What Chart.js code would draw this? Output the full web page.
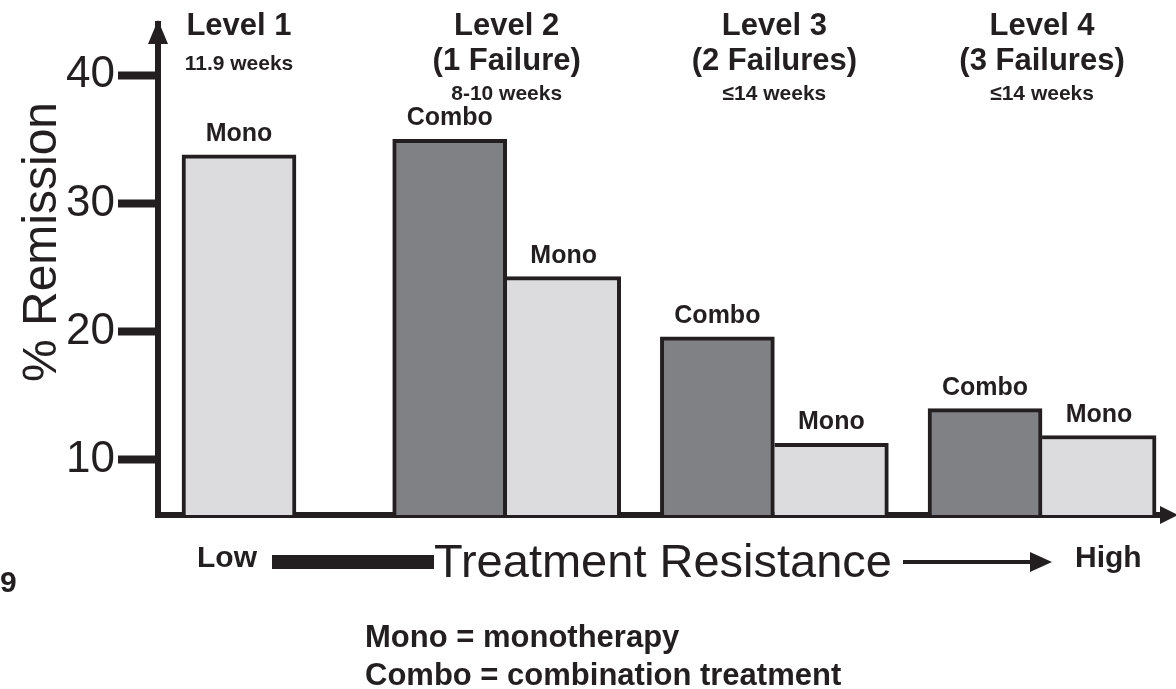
<!DOCTYPE html>
<html><head><meta charset="utf-8">
<script src="https://cdn.jsdelivr.net/npm/chart.js@4/dist/chart.umd.min.js"></script>
<style>html,body{margin:0;padding:0;background:#fff;overflow:hidden}#wrap{width:1176px;height:689px;position:relative}</style>
</head><body><div id="wrap"><canvas id="c" width="1176" height="689"></canvas></div>
<script>
// ---- data ----
const levels = ['Level 1', 'Level 2', 'Level 3', 'Level 4'];
const levelSub = ['', '(1 Failure)', '(2 Failures)', '(3 Failures)'];
const levelWeeks = ['11.9 weeks', '8-10 weeks', '≤14 weeks', '≤14 weeks'];
const seriesNames = ['Combo', 'Mono'];
const comboValues = [null, 35.0, 19.6, 14.0];
const monoValues = [33.8, 24.3, 11.3, 11.9];
const yTicks = [10, 20, 30, 40];
const yTitle = '% Remission';
const xTitle = 'Treatment Resistance';
const lowLabel = 'Low';
const highLabel = 'High';
const legendLines = ['Mono = monotherapy', 'Combo = combination treatment'];
const figNumber = '9';

// ---- styles ----
const ink = '#231f20';
const comboFill = '#808184';
const monoFill = '#dcdcde';
const FF = '"Liberation Sans", Arial, Helvetica, sans-serif';

const toPoints = arr => arr.map((v, i) => ({ x: i, y: v }));

const overlay = {
  id: 'overlay',
  afterDraw(chart) {
    const ctx = chart.ctx, xs = chart.scales.x, ca = chart.chartArea;
    ctx.save();
    ctx.fillStyle = ink; ctx.strokeStyle = ink;
    // axis arrowheads
    ctx.beginPath();
    ctx.moveTo(ca.left, ca.top - 4);
    ctx.lineTo(ca.left - 10, ca.top + 20);
    ctx.lineTo(ca.left + 10, ca.top + 20);
    ctx.closePath(); ctx.fill();
    ctx.beginPath();
    ctx.moveTo(ca.right + 8, ca.bottom);
    ctx.lineTo(ca.right - 10, ca.bottom - 9);
    ctx.lineTo(ca.right - 10, ca.bottom + 9);
    ctx.closePath(); ctx.fill();

    // bar labels
    ctx.font = 'bold 25px ' + FF;
    ctx.textAlign = 'center'; ctx.textBaseline = 'alphabetic';
    chart.data.datasets.forEach((ds, d) => {
      const meta = chart.getDatasetMeta(d);
      meta.data.forEach((el, i) => {
        if (ds.data[i].y == null) return;
        ctx.fillText(ds.label, el.x, el.y - 14);
      });
    });

    // level headers
    levels.forEach((t, i) => {
      const x = xs.getPixelForValue(i);
      ctx.font = 'bold 31px ' + FF;
      ctx.fillText(t, x, 35);
      if (levelSub[i]) {
        ctx.fillText(levelSub[i], x, 70);
        ctx.font = 'bold 21px ' + FF;
        ctx.fillText(levelWeeks[i], x, 100);
      } else {
        ctx.font = 'bold 21px ' + FF;
        ctx.fillText(levelWeeks[i], x, 70);
      }
    });

    // y title
    ctx.save();
    ctx.translate(56, 242);
    ctx.rotate(-Math.PI / 2);
    ctx.font = '48px ' + FF;
    ctx.textAlign = 'center'; ctx.textBaseline = 'alphabetic';
    ctx.fillText(yTitle, 0, 0);
    ctx.restore();

    // x title with Low -> High
    ctx.textAlign = 'left';
    ctx.font = 'bold 30px ' + FF;
    ctx.fillText(lowLabel, 197, 567);
    ctx.fillRect(272, 555, 162, 14);
    ctx.font = '47px ' + FF;
    ctx.fillText(xTitle, 434, 577);
    ctx.fillRect(903, 560, 130, 4);
    ctx.beginPath();
    ctx.moveTo(1030, 552); ctx.lineTo(1052, 562); ctx.lineTo(1030, 572);
    ctx.closePath(); ctx.fill();
    ctx.font = 'bold 30px ' + FF;
    ctx.fillText(highLabel, 1075, 567);

    // figure number
    ctx.fillText(figNumber, 0, 592);

    // legend text
    ctx.font = 'bold 31px ' + FF;
    ctx.fillText(legendLines[0], 365, 647);
    ctx.fillText(legendLines[1], 365, 685);
    ctx.restore();
  }
};

const borderFor = (isMono) => (c) => {
  const i = c.dataIndex;
  const shared = isMono && comboValues[i] != null;
  return { top: 4, right: 4, bottom: 0, left: shared ? 0 : 4 };
};

new Chart(document.getElementById('c'), {
  type: 'bar',
  data: {
    datasets: [
      { label: seriesNames[0], data: toPoints(comboValues), backgroundColor: comboFill,
        borderColor: ink, borderWidth: borderFor(false), borderSkipped: false },
      { label: seriesNames[1], data: toPoints(monoValues), backgroundColor: monoFill,
        borderColor: ink, borderWidth: borderFor(true), borderSkipped: false }
    ]
  },
  options: {
    responsive: false,
    animation: false,
    devicePixelRatio: 1,
    layout: { padding: { left: 0, right: 6, top: 24, bottom: 174 } },
    datasets: { bar: { barThickness: 114, grouped: true, skipNull: true } },
    plugins: { legend: { display: false }, tooltip: { enabled: false } },
    scales: {
      x: {
        type: 'linear', min: -0.3026, max: 3.478, offset: false, z: 1,
        ticks: { display: false },
        grid: { display: true, drawOnChartArea: false, drawTicks: false },
        border: { display: true, width: 6, color: ink }
      },
      y: {
        min: 5.7, max: 44, z: 1,
        afterFit: s => { s.width = 158; },
        afterBuildTicks: s => { s.ticks = yTicks.map(v => ({ value: v })); },
        ticks: { color: ink, padding: 3, font: { family: FF, size: 44, lineHeight: 0.6 }, includeBounds: false },
        grid: { display: true, drawOnChartArea: false, drawTicks: true, tickLength: 40, tickWidth: 8, tickColor: ink, color: ink },
        border: { display: true, width: 6, color: ink }
      }
    }
  },
  plugins: [overlay]
});
</script>
</body></html>
